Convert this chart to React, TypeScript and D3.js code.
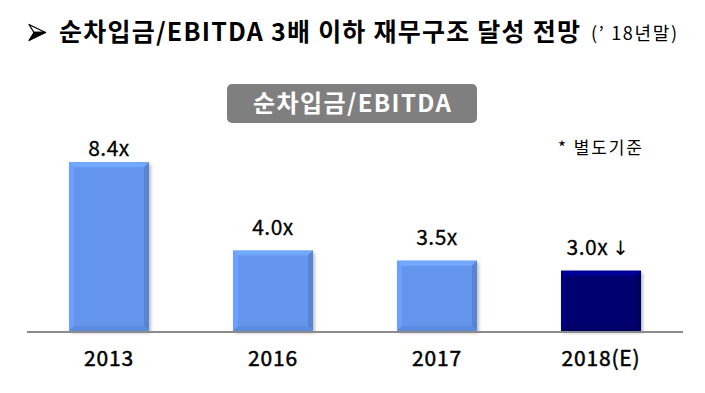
import React from "react";
import * as d3 from "d3";

const categories = ["2013", "2016", "2017", "2018(E)"];
const values = [8.4, 4.0, 3.5, 3.0];
const valueLabels = ["8.4x", "4.0x", "3.5x", "3.0x"];
const estimateFlags = [false, false, false, true];

const W = 705;
const H = 393;
const FONT = "'Noto Sans CJK KR', 'Noto Sans', sans-serif";

const x = d3.scaleBand<string>().domain(categories).range([27, 683]).paddingInner(0.512).paddingOuter(0.256);
const y = d3.scaleLinear().domain([0, 10]).range([331, 130]);

function Bevel({ x0, y0, w, h, base, dark }: { x0: number; y0: number; w: number; h: number; base: string; dark: boolean }) {
  const b = 5;
  const c = d3.color(base)!;
  const light = dark ? d3.rgb(c).brighter(0.9).toString() : d3.rgb(c).brighter(0.35).toString();
  const lighter = dark ? d3.rgb(c).brighter(0.5).toString() : d3.rgb(c).brighter(0.2).toString();
  const shade = d3.rgb(c).darker(0.35).toString();
  const shade2 = d3.rgb(c).darker(0.2).toString();
  const x1 = x0 + w;
  const y1 = y0 + h;
  return (
    <g>
      <rect x={x0} y={y0} width={w} height={h} fill={base} filter="url(#sh)" />
      <polygon points={`${x0},${y0} ${x1},${y0} ${x1 - b},${y0 + b} ${x0 + b},${y0 + b}`} fill={light} />
      <polygon points={`${x0},${y0} ${x0 + b},${y0 + b} ${x0 + b},${y1 - b} ${x0},${y1}`} fill={lighter} />
      <polygon points={`${x1},${y0} ${x1},${y1} ${x1 - b},${y1 - b} ${x1 - b},${y0 + b}`} fill={shade} />
      <polygon points={`${x0},${y1} ${x1},${y1} ${x1 - b},${y1 - b} ${x0 + b},${y1 - b}`} fill={shade2} />
    </g>
  );
}

export default function App() {
  const bw = x.bandwidth();
  return (
    <svg width={W} height={H} style={{ position: "absolute", left: 0, top: 0, background: "#fff" }} fontFamily={FONT}>
      <defs>
        <filter id="sh" x="-10%" y="-10%" width="130%" height="130%">
          <feDropShadow dx="2" dy="2" stdDeviation="1.5" floodColor="#000" floodOpacity="0.25" />
        </filter>
      </defs>
      {/* Title arrowhead */}
      <polygon points="29,24.5 45.5,32.5 34,32.5" fill="#fff" stroke="#000" strokeWidth={1.3} strokeLinejoin="round" />
      <polygon points="34,32.5 45.5,32.5 29,40.5" fill="#000" stroke="#000" strokeWidth={1.3} strokeLinejoin="round" />
      <text x={59} y={41} fontSize={25} fontWeight="bold" fill="#000" textLength={521} lengthAdjust="spacing">
        순차입금/EBITDA 3배 이하 재무구조 달성 전망
      </text>
      <text x={591} y={40} fontSize={18} fill="#000" textLength={86} lengthAdjust="spacing">(’ 18년말)</text>

      {/* Badge */}
      <rect x={227} y={84} width={250} height={39} rx={5} fill="#7f7f7f" />
      <text x={253} y={112} fontSize={24} fontWeight="bold" fill="#fff" textLength={198} lengthAdjust="spacing">순차입금/EBITDA</text>

      {/* note */}
      <text x={558} y={154} fontSize={17} fill="#000" textLength={84} lengthAdjust="spacing">* 별도기준</text>

      {/* bars */}
      {categories.map((c, i) => {
        const x0 = x(c)!;
        const y0 = y(values[i]);
        const h = y(0) - y0;
        const base = estimateFlags[i] ? "#00006e" : "#6495ed";
        return <Bevel key={c} x0={x0} y0={y0} w={bw} h={h} base={base} dark={estimateFlags[i]} />;
      })}

      {/* axis line */}
      <line x1={27} x2={683} y1={y(0) + 1} y2={y(0) + 1} stroke="#8c8c8c" strokeWidth={2} />

      {/* value labels */}
      {categories.map((c, i) => {
        const cx = x(c)! + bw / 2;
        const ly = Math.max(y(values[i]) - 16, 156);
        return (
          <text key={c} x={estimateFlags[i] ? cx - 3 : cx} y={ly} textAnchor="middle" fontSize={21} fill="#000" stroke="#000" strokeWidth={0.3} letterSpacing={0.5}>
            {valueLabels[i]}
            {estimateFlags[i] && <tspan dx={4} fontSize={20} fontFamily="'DejaVu Sans', sans-serif" strokeWidth={0}>↓</tspan>}
          </text>
        );
      })}

      {/* category labels */}
      {categories.map((c) => (
        <text key={c} x={x(c)! + bw / 2} y={366} textAnchor="middle" fontSize={21} fill="#000" stroke="#000" strokeWidth={0.5} letterSpacing={0.8}>{c}</text>
      ))}
    </svg>
  );
}
